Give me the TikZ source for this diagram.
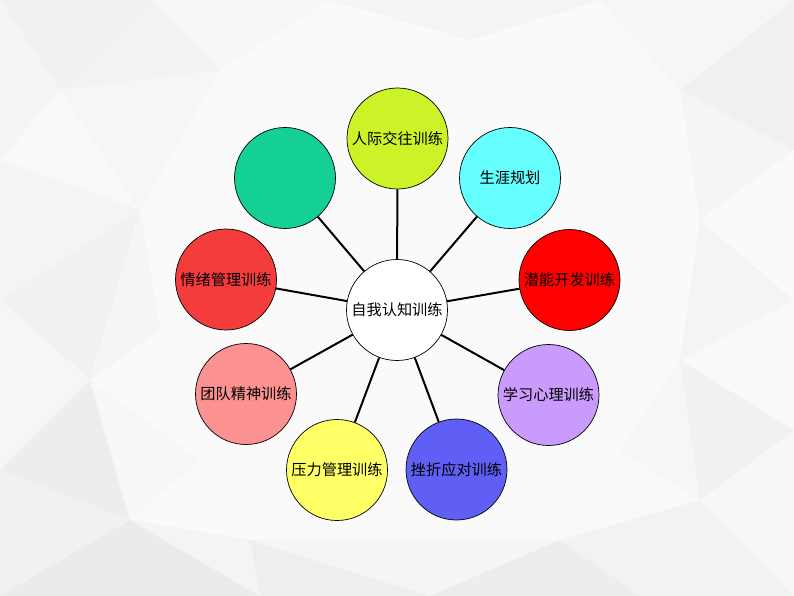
\documentclass[tikz,border=0pt]{standalone}
\usepackage{fontspec}
\newfontfamily\cjk{Noto Sans CJK SC}
\definecolor{cYG}{RGB}{204,242,40}
\definecolor{cTeal}{RGB}{20,208,150}
\definecolor{cCyan}{RGB}{102,255,255}
\definecolor{cRedL}{RGB}{245,60,60}
\definecolor{cRedR}{RGB}{255,0,0}
\definecolor{cPink}{RGB}{252,145,145}
\definecolor{cYel}{RGB}{255,255,102}
\definecolor{cBlue}{RGB}{95,95,245}
\definecolor{cPur}{RGB}{200,155,252}
\tikzset{
  bub/.style={circle,draw=black,line width=0.7pt,minimum size=101pt,inner sep=0pt,font=\cjk\fontsize{15.2}{17}\selectfont,text=black},
  spoke/.style={line width=2pt,black},
  poly/.style={draw=none}
}
\begin{document}
\begin{tikzpicture}[x=1pt,y=-1pt]
\useasboundingbox (0,0) rectangle (794,596);
\fill[gray!4] (0,0) rectangle (794,596);
% low-poly background
\fill[poly,gray!12] (0,0) -- (150,0) -- (60,90) -- cycle;
\fill[poly,gray!8] (0,0) -- (60,90) -- (0,160) -- cycle;
\fill[poly,gray!6] (150,0) -- (330,0) -- (220,70) -- cycle;
\fill[poly,gray!10] (60,90) -- (150,0) -- (220,70) -- cycle;
\fill[poly,gray!5] (0,160) -- (60,90) -- (140,210) -- cycle;
\fill[poly,gray!9] (0,160) -- (140,210) -- (0,300) -- cycle;
\fill[poly,gray!11] (0,300) -- (140,210) -- (90,380) -- cycle;
\fill[poly,gray!7] (0,300) -- (90,380) -- (0,470) -- cycle;
\fill[poly,gray!14] (0,470) -- (90,380) -- (130,520) -- cycle;
\fill[poly,gray!11] (0,470) -- (130,520) -- (0,596) -- cycle;
\fill[poly,gray!16] (0,596) -- (130,520) -- (260,596) -- cycle;
\fill[poly,gray!9] (130,520) -- (260,596) -- (250,540) -- cycle;
\fill[poly,gray!13] (250,540) -- (260,596) -- (430,596) -- cycle;
\fill[poly,gray!8] (430,596) -- (250,540) -- (560,540) -- cycle;
\fill[poly,gray!14] (430,596) -- (560,540) -- (640,596) -- cycle;
\fill[poly,gray!10] (560,540) -- (640,596) -- (794,596) -- (700,500) -- cycle;
\fill[poly,gray!6] (700,500) -- (794,596) -- (794,430) -- cycle;
\fill[poly,gray!11] (700,500) -- (794,430) -- (680,360) -- cycle;
\fill[poly,gray!5] (680,360) -- (794,430) -- (794,300) -- cycle;
\fill[poly,gray!9] (680,360) -- (794,300) -- (700,220) -- cycle;
\fill[poly,gray!4] (700,220) -- (794,300) -- (794,150) -- cycle;
\fill[poly,gray!8] (700,220) -- (794,150) -- (680,90) -- cycle;
\fill[poly,gray!12] (680,90) -- (794,150) -- (794,0) -- cycle;
\fill[poly,gray!7] (680,90) -- (794,0) -- (600,0) -- cycle;
\fill[poly,gray!5] (600,0) -- (680,90) -- (520,60) -- cycle;
\fill[poly,gray!9] (330,0) -- (600,0) -- (470,40) -- cycle;
\fill[poly,gray!7] (140,210) -- (220,70) -- (60,90) -- cycle;
\fill[poly,gray!8] (90,380) -- (160,330) -- (140,210) -- cycle;
\fill[poly,gray!6] (130,520) -- (90,380) -- (200,460) -- cycle;
\fill[poly,gray!5] (560,540) -- (700,500) -- (620,450) -- cycle;
\fill[poly,gray!7] (620,450) -- (700,500) -- (680,360) -- cycle;
% nodes
\node[bub,fill=white] (c) at (397,310) {自我认知训练};
\node[bub,fill=cYG] (n1) at (397.5,138.5) {人际交往训练};
\node[bub,fill=cCyan] (n2) at (510,178) {生涯规划};
\node[bub,fill=cRedR] (n3) at (569.5,280) {潜能开发训练};
\node[bub,fill=cPur] (n4) at (548.5,395) {学习心理训练};
\node[bub,fill=cBlue] (n5) at (456.5,469.5) {挫折应对训练};
\node[bub,fill=cYel] (n6) at (337,470) {压力管理训练};
\node[bub,fill=cPink] (n7) at (246,394) {团队精神训练};
\node[bub,fill=cRedL] (n8) at (226,279.5) {情绪管理训练};
\node[bub,fill=cTeal] (n9) at (285,178) {};
\foreach \n in {n1,n2,n3,n4,n5,n6,n7,n8,n9}
  \draw[spoke] (c) -- (\n);
\end{tikzpicture}
\end{document}
